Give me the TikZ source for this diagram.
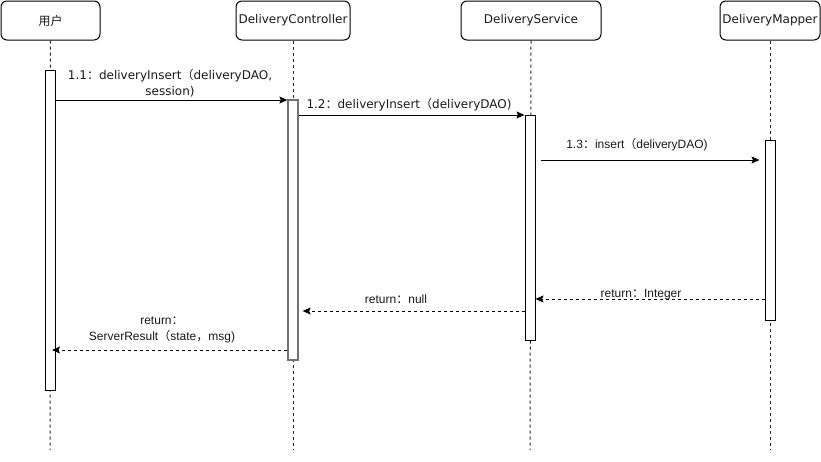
\documentclass[tikz,border=0pt]{standalone}
\usepackage{fontspec}
\setmainfont{DejaVu Sans}
\newfontfamily\cjk{Noto Sans CJK SC}
\newfontfamily\arialfont{Liberation Sans}
\usetikzlibrary{arrows.meta}
% full-width punctuation
\newcommand{\fcolon}{{\cjk ：}}
\newcommand{\fparen}{{\cjk （}}
\newcommand{\fcomma}{{\cjk ，}}
\begin{document}
\begin{tikzpicture}[x=1pt,y=-1pt, line width=1pt,
  every node/.style={text=black!90},
  actor/.style={draw, rounded corners=6pt, minimum width=#1, minimum height=39pt,
    inner sep=0pt, font=\fontsize{12}{14}\selectfont},
  lifeline/.style={draw=black!85, dash pattern=on 3pt off 3pt},
  bar/.style={draw, fill=white, minimum width=10pt, minimum height=#1, inner sep=0pt},
  msg/.style={-{Stealth[length=8pt,width=7pt,inset=1.5pt]}},
  ret/.style={msg, dash pattern=on 3pt off 3pt},
  tlabel/.style={font=\fontsize{12}{16}\selectfont, inner sep=0pt, align=center},
  alabel/.style={font=\arialfont\fontsize{12}{16}\selectfont, inner sep=0pt, align=center}]
\useasboundingbox (0,0) rectangle (821,461);

% participants
\node[actor=99pt]  (u) at (50.5,20.5)  {{\cjk 用户}};
\node[actor=114pt] (c) at (293,20.5)   {DeliveryController};
\node[actor=140pt] (s) at (531,20.5)   {DeliveryService};
\node[actor=100pt] (m) at (770,20.5)   {DeliveryMapper};

% lifeline ends
\coordinate (ue) at (50,450);
\coordinate (ce) at (293,450);
\coordinate (se) at (530,450);
\coordinate (me) at (770,450);
\draw[lifeline] (u.south) -- (ue);
\draw[lifeline] (c.south) -- (ce);
\draw[lifeline] (s.south) -- (se);
\draw[lifeline] (m.south) -- (me);

% activation bars
\node[bar=320pt] (ua) at (50,230) {};
\node[bar=260pt, draw=black!55, line width=1.3pt] (ca) at (293,230) {};
\node[bar=225pt] (sa) at (530,227.5) {};
\node[bar=180pt] (ma) at (770,230) {};

% calls
\draw[msg] (ua.east |- 0,100) -- (ca.west |- 0,100);
\node[tlabel] (l1) at (170,83) {1.1\fcolon deliveryInsert\fparen deliveryDAO,\\session)};

\draw[msg] (ca.east |- 0,115) -- (sa.west |- 0,115);
\node[tlabel, anchor=west] (l2) at (306,105) {1.2\fcolon deliveryInsert\fparen deliveryDAO)};

\draw[msg] ([xshift=5pt]sa.east |- 0,160) -- ([xshift=-5pt]ma.west |- 0,160);
\node[alabel] (l3) at (637,145) {1.3\fcolon insert\fparen deliveryDAO)};

% returns
\draw[ret] (ma.west |- 0,299) -- (sa.east |- 0,299);
\node[alabel] (l4) at (641,295) {return\fcolon Integer};

\draw[ret] (sa.west |- 0,311) -- ([xshift=4pt]ca.east |- 0,311);
\node[alabel] (l5) at (396,299) {return\fcolon null};

\draw[ret] (ca.west |- 0,350) -- ([xshift=2pt]ua.center |- 0,350);
\node[alabel] (l6) at (162,330) {return\fcolon\\ServerResult\fparen state\fcomma msg)};
\end{tikzpicture}
\end{document}
